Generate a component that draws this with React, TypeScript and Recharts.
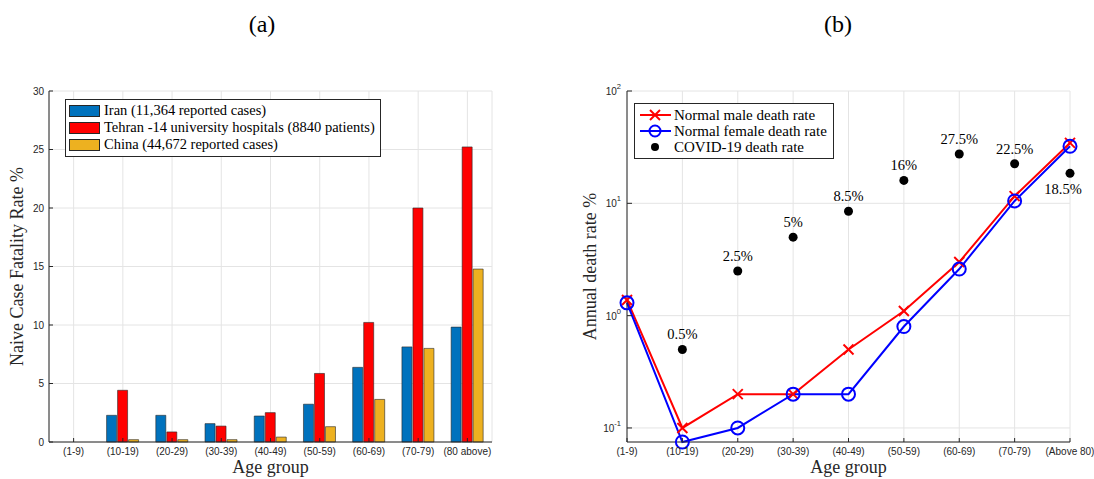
import React from 'react';
import {
  BarChart,
  Bar,
  ComposedChart,
  Line,
  XAxis,
  YAxis,
  CartesianGrid,
  Legend,
  LabelList,
} from 'recharts';

const SERIF = '"Liberation Serif", "DejaVu Serif", serif';
const SANS = '"Liberation Sans", Arial, sans-serif';
const AXIS = '#262626';
const GRID = '#e4e4e4';

// (a) naive case fatality rate
const ageGroupsA = ['(1-9)', '(10-19)', '(20-29)', '(30-39)', '(40-49)', '(50-59)', '(60-69)', '(70-79)', '(80 above)'];
const iranRate = [0, 2.28, 2.28, 1.57, 2.22, 3.23, 6.38, 8.13, 9.82];
const tehranRate = [0, 4.42, 0.86, 1.36, 2.51, 5.86, 10.22, 20.0, 25.22];
const chinaRate = [0, 0.2, 0.2, 0.2, 0.42, 1.31, 3.64, 8.0, 14.78];
const yTicksA = [0, 5, 10, 15, 20, 25, 30];

// (b) annual death rate
const ageGroupsB = ['(1-9)', '(10-19)', '(20-29)', '(30-39)', '(40-49)', '(50-59)', '(60-69)', '(70-79)', '(Above 80)'];
const maleRate = [1.38, 0.1, 0.2, 0.2, 0.5, 1.1, 3.0, 11.6, 34.5];
const femaleRate = [1.3, 0.075, 0.1, 0.2, 0.2, 0.8, 2.6, 10.5, 32.2];
const covidRate = [null, 0.5, 2.5, 5, 8.5, 16, 27.5, 22.5, 18.5];
const majorTicksB = [0.1, 1, 10, 100];
const minorTicksB = [0.2, 0.3, 0.4, 0.5, 0.6, 0.7, 0.8, 0.9, 2, 3, 4, 5, 6, 7, 8, 9, 20, 30, 40, 50, 60, 70, 80, 90];

const dataA = ageGroupsA.map((age, i) => ({
  age,
  iran: iranRate[i],
  tehran: tehranRate[i],
  china: chinaRate[i],
}));

const dataB = ageGroupsB.map((age, i) => ({
  age,
  male: maleRate[i],
  female: femaleRate[i],
  covid: covidRate[i],
}));

const orderA = ['iran', 'tehran', 'china'];
const orderB = ['male', 'female', 'covid'];

const tickFont = { fill: AXIS, fontSize: 10, fontFamily: SANS };
const labelFont = { fill: AXIS, fontSize: 18, fontFamily: SERIF };

const sortBy = (payload: any[], order: string[]) =>
  [...(payload || [])].sort((a, b) => order.indexOf(a.dataKey) - order.indexOf(b.dataKey));

function BarLegend({ payload }: any) {
  return (
    <div style={{ border: `1px solid ${AXIS}`, background: '#fff', padding: '2px 5px 3px 3px', fontFamily: SERIF, fontSize: 14.5, lineHeight: '17px', color: '#000', whiteSpace: 'nowrap' }}>
      {sortBy(payload, orderA).map((p: any) => (
        <div key={p.value} style={{ display: 'flex', alignItems: 'center' }}>
          <span style={{ display: 'inline-block', width: 31, height: 12, background: p.color, border: `1px solid ${AXIS}`, boxSizing: 'border-box', marginRight: 4 }} />
          {p.value}
        </div>
      ))}
    </div>
  );
}

function LineLegend({ payload }: any) {
  return (
    <div style={{ border: `1px solid ${AXIS}`, background: '#fff', padding: '3px 6px 3px 3px', fontFamily: SERIF, fontSize: 15, lineHeight: '16px', color: '#000', whiteSpace: 'nowrap' }}>
      {sortBy(payload, orderB).map((p: any) => (
        <div key={p.value} style={{ display: 'flex', alignItems: 'center' }}>
          <svg width={34} height={16} style={{ marginRight: 2 }}>
            {p.dataKey !== 'covid' && <line x1={2} y1={8} x2={33} y2={8} stroke={p.color} strokeWidth={2} />}
            {p.dataKey === 'male' && (
              <g stroke="#ff0000" strokeWidth={2}>
                <line x1={12} y1={3} x2={22} y2={13} />
                <line x1={12} y1={13} x2={22} y2={3} />
              </g>
            )}
            {p.dataKey === 'female' && <circle cx={17} cy={8} r={5.5} fill="none" stroke="#0000ff" strokeWidth={2} />}
            {p.dataKey === 'covid' && <circle cx={17} cy={8} r={4} fill="#000" />}
          </svg>
          {p.value}
        </div>
      ))}
    </div>
  );
}

function LogTick({ x, y, payload }: any) {
  const exp = Math.round(Math.log10(payload.value));
  return (
    <text x={x} y={y} dy={4} textAnchor="end" fill={AXIS} fontSize={10} fontFamily={SANS}>
      10
      <tspan dy={-6} fontSize={7.5}>{exp}</tspan>
    </text>
  );
}

function CrossDot({ cx, cy }: any) {
  if (cx == null || cy == null) return null;
  return (
    <g stroke="#ff0000" strokeWidth={2}>
      <line x1={cx - 5} y1={cy - 5} x2={cx + 5} y2={cy + 5} />
      <line x1={cx - 5} y1={cy + 5} x2={cx + 5} y2={cy - 5} />
    </g>
  );
}

function CircleDot({ cx, cy }: any) {
  if (cx == null || cy == null) return null;
  return <circle cx={cx} cy={cy} r={6.5} fill="none" stroke="#0000ff" strokeWidth={2} />;
}

function CovidDot({ cx, cy }: any) {
  if (cx == null || cy == null) return null;
  return <circle cx={cx} cy={cy} r={4.5} fill="#000" />;
}

function CovidLabel({ x, y, value, index }: any) {
  if (value == null || x == null || y == null) return null;
  const last = index === ageGroupsB.length - 1;
  return (
    <text x={last ? x - 7 : x} y={last ? y + 21 : y - 10} textAnchor="middle" fontFamily={SERIF} fontSize={14.5} fill="#000">
      {`${value}%`}
    </text>
  );
}

export default function App() {
  return (
    <div style={{ position: 'absolute', left: 0, top: 0, width: 1094, height: 479, background: '#fff', overflow: 'hidden' }}>
      <div style={{ position: 'absolute', left: 238, top: 11, width: 48, textAlign: 'center', fontFamily: SERIF, fontSize: 24 }}>(a)</div>
      <div style={{ position: 'absolute', left: 814, top: 11, width: 48, textAlign: 'center', fontFamily: SERIF, fontSize: 24 }}>(b)</div>

      <div style={{ position: 'absolute', left: 0, top: 0 }}>
        <BarChart width={547} height={479} data={dataA} margin={{ top: 91, right: 55, bottom: 0, left: 0 }} barCategoryGap="17%" barGap={1}>
          <CartesianGrid stroke={GRID} />
          <XAxis
            dataKey="age"
            height={37}
            interval={0}
            tickSize={-4}
            tickMargin={10}
            tick={tickFont}
            axisLine={{ stroke: AXIS }}
            tickLine={{ stroke: AXIS }}
            label={{ value: 'Age group', position: 'insideBottom', offset: 6, style: labelFont }}
          />
          <XAxis xAxisId="top" dataKey="age" orientation="top" mirror height={0} interval={0} tick={false} tickSize={4} axisLine={{ stroke: AXIS }} tickLine={{ stroke: AXIS }} />
          <YAxis
            domain={[0, 30]}
            ticks={yTicksA}
            width={49}
            tickSize={-4}
            tickMargin={9}
            tick={tickFont}
            axisLine={{ stroke: AXIS }}
            tickLine={{ stroke: AXIS }}
            label={{ value: 'Naive Case Fatality Rate %', angle: -90, position: 'insideLeft', offset: 17, style: { ...labelFont, textAnchor: 'middle' } }}
          />
          <YAxis yAxisId="right" orientation="right" mirror width={0} domain={[0, 30]} ticks={yTicksA} tick={false} tickSize={4} axisLine={{ stroke: AXIS }} tickLine={{ stroke: AXIS }} />
          <Legend layout="vertical" align="center" verticalAlign="middle" wrapperStyle={{ left: 65, top: 99, width: 'auto' }} content={<BarLegend />} />
          <Bar dataKey="iran" name="Iran (11,364 reported cases)" fill="#0072bd" stroke={AXIS} strokeWidth={0.6} isAnimationActive={false} />
          <Bar dataKey="tehran" name="Tehran -14 university hospitals (8840 patients)" fill="#ff0000" stroke={AXIS} strokeWidth={0.6} isAnimationActive={false} />
          <Bar dataKey="china" name="China (44,672 reported cases)" fill="#edb120" stroke={AXIS} strokeWidth={0.6} isAnimationActive={false} />
        </BarChart>
      </div>

      <div style={{ position: 'absolute', left: 547, top: 0 }}>
        <ComposedChart width={547} height={479} data={dataB} margin={{ top: 91, right: 24, bottom: 0, left: 0 }}>
          <CartesianGrid stroke={GRID} />
          <XAxis
            dataKey="age"
            scale="point"
            height={37}
            interval={0}
            tickSize={-4}
            tickMargin={10}
            tick={tickFont}
            axisLine={{ stroke: AXIS }}
            tickLine={{ stroke: AXIS }}
            label={{ value: 'Age group', position: 'insideBottom', offset: 6, style: labelFont }}
          />
          <XAxis xAxisId="top" dataKey="age" scale="point" orientation="top" mirror height={0} interval={0} tick={false} tickSize={4} axisLine={{ stroke: AXIS }} tickLine={{ stroke: AXIS }} />
          <YAxis
            scale="log"
            domain={[0.075, 100]}
            ticks={majorTicksB}
            width={80}
            tickSize={-5}
            tickMargin={11}
            tick={<LogTick />}
            axisLine={{ stroke: AXIS }}
            tickLine={{ stroke: AXIS }}
            label={{ value: 'Annual death rate %', angle: -90, position: 'insideLeft', offset: 43, style: { ...labelFont, textAnchor: 'middle' } }}
          />
          <YAxis yAxisId="major" orientation="right" mirror width={0} scale="log" domain={[0.075, 100]} ticks={majorTicksB} tick={false} tickSize={5} axisLine={{ stroke: AXIS }} tickLine={{ stroke: AXIS }} />
          <YAxis yAxisId="minor" orientation="right" mirror width={0} scale="log" domain={[0.075, 100]} ticks={minorTicksB} tick={false} tickSize={3} axisLine={false} tickLine={{ stroke: AXIS }} />
          <Legend layout="vertical" align="center" verticalAlign="middle" wrapperStyle={{ left: 87, top: 103, width: 'auto' }} content={<LineLegend />} />
          <Line dataKey="male" name="Normal male death rate" stroke="#ff0000" strokeWidth={2} dot={<CrossDot />} isAnimationActive={false} />
          <Line dataKey="female" name="Normal female death rate" stroke="#0000ff" strokeWidth={2} dot={<CircleDot />} isAnimationActive={false} />
          <Line dataKey="covid" name="COVID-19 death rate" stroke="none" dot={<CovidDot />} activeDot={false} isAnimationActive={false}>
            <LabelList dataKey="covid" content={<CovidLabel />} />
          </Line>
        </ComposedChart>
      </div>
    </div>
  );
}
